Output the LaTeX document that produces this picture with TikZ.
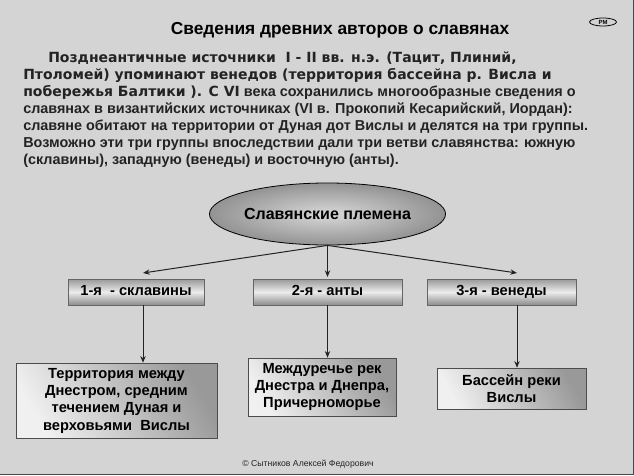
\documentclass[tikz,border=0pt]{standalone}
\usepackage{fontspec}
\setmainfont{Liberation Sans}
\newfontfamily\wideface{DejaVu Sans}
\usetikzlibrary{arrows.meta,shapes.geometric}
\definecolor{PaperGray}{RGB}{212,212,212}
\definecolor{InkGray}{RGB}{35,35,35}
\begin{document}
\begin{tikzpicture}[x=0.75pt, y=-0.75pt,
        tribe/.style={draw=InkGray!70, top color=gray!80, bottom color=gray!90, middle color=gray!15, minimum height=19.5pt, inner sep=0pt, text height=8pt, text depth=2.5pt, font=\fontsize{11}{13}\selectfont\bfseries, text=black},
        area/.style={draw=gray!60!black, left color=gray!12, right color=gray!80, shading angle=120, inner sep=0pt, align=center, font=\fontsize{11}{13}\selectfont\bfseries, text=black},
        arrow/.style={-{Stealth[length=5pt, width=4pt]}, line width=0.75pt, InkGray}
    ]
        \useasboundingbox (0,0) rectangle (634,475);
        \fill[PaperGray] (0,0) rectangle (634,475);
        \draw[gray!55!black, line width=1pt] (633.5,0) -- (633.5,474.5) -- (0,474.5);

        % Title & intro text
        \node[font=\fontsize{13}{15}\selectfont\bfseries] (title) at (340,30) {Сведения древних авторов о славянах};
        \node[ellipse, draw=black, line width=0.6pt, minimum width=20.25pt, minimum height=6pt, inner sep=0pt, font=\fontsize{4.5}{5}\selectfont\bfseries] (pm) at (603,22) {PM};
        \node[anchor=north west, inner sep=0pt, align=left, font=\fontsize{10.8}{12.75}\selectfont\bfseries, text=InkGray] (intro) at (23,52) {%
            \hspace*{18.75pt}{\wideface\fontsize{10.5}{12.75}\selectfont Позднеантичные источники~~I - II вв. н.э. (Тацит, Плиний,}\\
            {\wideface\fontsize{10.5}{12.75}\selectfont Птоломей) упоминают венедов (территория бассейна р. Висла и}\\
            {\wideface\fontsize{10.5}{12.75}\selectfont побережья Балтики ). С VI} века сохранились многообразные сведения о\\
            славянах в византийских источниках (VI в. Прокопий Кесарийский, Иордан):\\
            славяне обитают на территории от Дуная дот Вислы и делятся на три группы.\\
            Возможно эти три группы впоследствии дали три ветви славянства: южную\\
            (склавины), западную (венеды) и восточную (анты).};

        % Root & groups
        \node[ellipse, draw=black, line width=0.6pt, inner color=gray!30, outer color=gray!85, minimum width=143.25pt, minimum height=46.5pt, inner sep=0pt, font=\fontsize{12}{14}\selectfont\bfseries] (slavs) at (327.5,214) {Славянские племена};

        \node[tribe, minimum width=102pt] (sklav) at (136,292) {1-я~~- склавины};
        \node[tribe, minimum width=111.75pt] (ants) at (327.5,292) {2-я - анты};
        \node[tribe, minimum width=111.75pt] (vened) at (501.5,292) {3-я - венеды};

        % Territories
        \node[area, minimum width=150.75pt, minimum height=56.25pt] (terr1) at (116.5,400.5) {Территория между\\Днестром, средним\\течением Дуная и\\верховьями~~Вислы};
        \node[area, minimum width=111pt, minimum height=43.5pt] (terr2) at (322,387) {Междуречье рек\\Днестра и Днепра,\\Причерноморье};
        \node[area, minimum width=111.75pt, minimum height=30.75pt] (terr3) at (511.5,388.5) {Бассейн реки\\Вислы};

        \node[font=\fontsize{6.5}{7}\selectfont, text=InkGray] (copy) at (308,464) {© Сытников Алексей Федорович};

        % Connections
        \coordinate (tip1) at (143,273);
        \coordinate (tip2) at (327.5,277);
        \coordinate (tip3) at (517,273);
        \draw[arrow] (slavs.south) -- (tip1);
        \draw[arrow] (slavs.south) -- (tip2);
        \draw[arrow] (slavs.south) -- (tip3);
        \draw[arrow] (sklav.south -| tip1) -- (terr1.north -| tip1);
        \draw[arrow] (ants.south -| tip2) -- (terr2.north -| tip2);
        \draw[arrow] (vened.south -| tip3) -- (terr3.north -| tip3);
    \end{tikzpicture}
\end{document}
